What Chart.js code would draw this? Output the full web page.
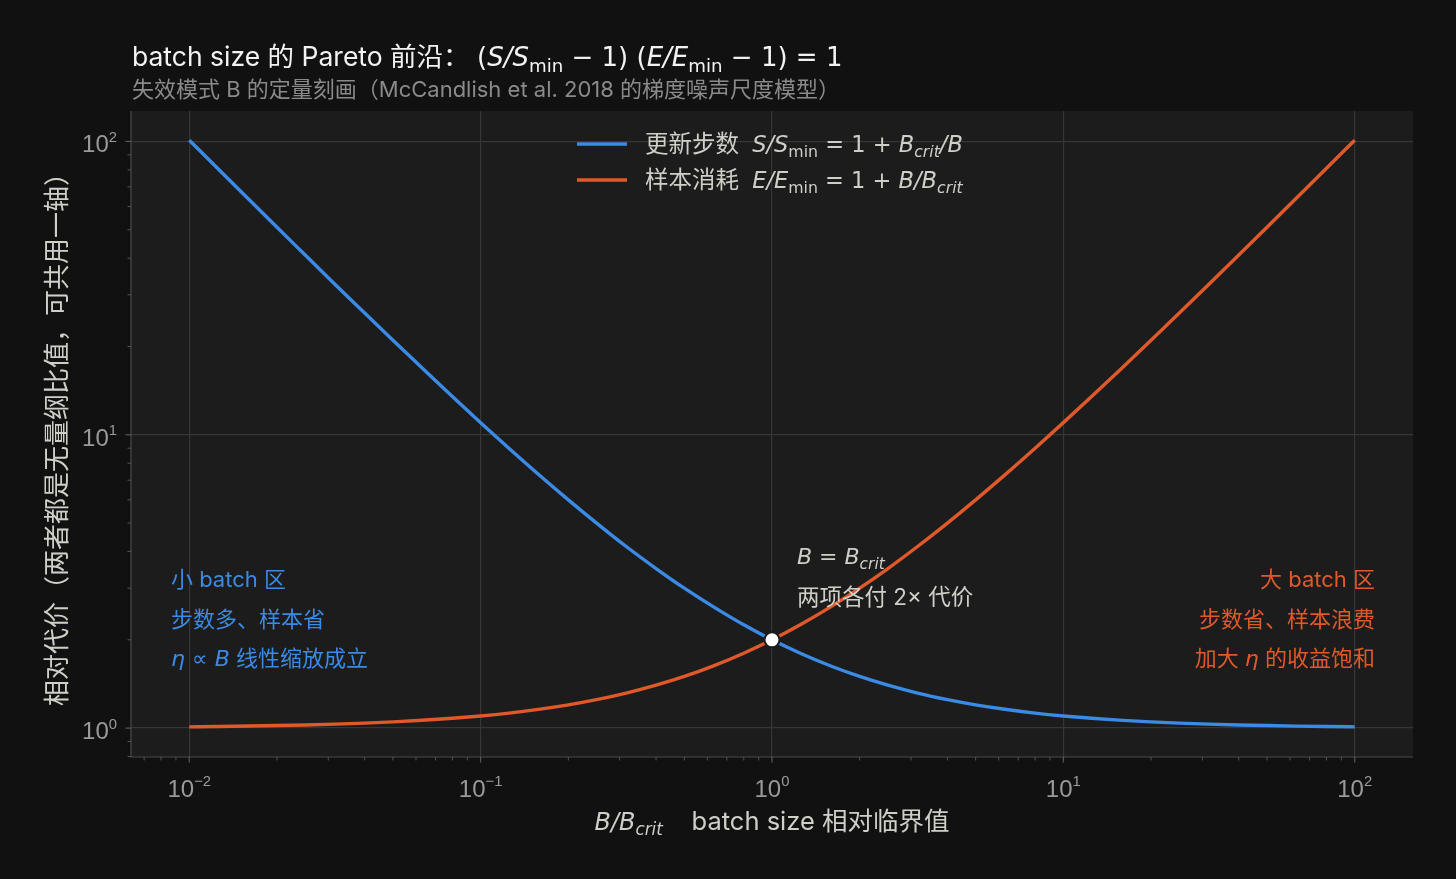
<!DOCTYPE html>
<html><head><meta charset="utf-8">
<script src="https://cdn.jsdelivr.net/npm/chart.js@4/dist/chart.umd.min.js"></script>
<style>html,body{margin:0;padding:0;background:#111111;}canvas{display:block}</style>
</head><body>
<canvas id="c" width="1456" height="879"></canvas>
<script>
// ---- data ----
const batchRatio = [0.01,0.0125,0.016,0.02,0.025,0.0316,0.04,0.05,0.063,0.08,0.1,0.125,0.16,0.2,0.25,0.316,0.4,0.5,0.63,0.8,1,1.25,1.6,2,2.5,3.16,4,5,6.3,8,10,12.5,16,20,25,31.6,40,50,63,80,100];
const stepsCost = [101,81,63.5,51,41,32.6,26,21,16.9,13.5,11,9,7.25,6,5,4.16,3.5,3,2.59,2.25,2,1.8,1.625,1.5,1.4,1.316,1.25,1.2,1.159,1.125,1.1,1.08,1.0625,1.05,1.04,1.0316,1.025,1.02,1.0159,1.0125,1.01];
const samplesCost = [1.01,1.0125,1.016,1.02,1.025,1.0316,1.04,1.05,1.063,1.08,1.1,1.125,1.16,1.2,1.25,1.316,1.4,1.5,1.63,1.8,2,2.25,2.6,3,3.5,4.16,5,6,7.3,9,11,13.5,17,21,26,32.6,41,51,64,81,101];
const crossPoint = [{x:1, y:2}];
const xMajorTicks = [0.01,0.1,1,10,100];
const xTickExp = ['−2','−1','0','1','2'];
const yMajorTicks = [1,10,100];
const yTickExp = ['0','1','2'];

const BLUE = '#3a8ae6', ORANGE = '#e0592a';
const TXT = '"Inter","Noto Sans CJK SC",sans-serif';
const MATH = '"DejaVu Sans",sans-serif';
const TICK = '"Liberation Sans",sans-serif';
const LIGHT = '#cfcfc8';

// kinds: t text, m math upright, i math italic, sb math sub upright, sbi math sub italic, k tick digits, sp tick superscript
function spec(kind, size){
  switch(kind){
    case 't':  return {f: size+'px '+TXT, dy:0};
    case 'm':  return {f: size+'px '+MATH, dy:0};
    case 'i':  return {f: 'italic '+size+'px '+MATH, dy:0};
    case 'sb': return {f: (size*0.7)+'px '+MATH, dy:size*0.22};
    case 'sbi':return {f: 'italic '+(size*0.7)+'px '+MATH, dy:size*0.22};
    case 'k':  return {f: size+'px '+TICK, dy:0};
    case 'sp': return {f: (size*0.62)+'px '+TICK, dy:-size*0.44};
  }
}
function rich(ctx, segs, x, y, size, color, align){
  const parts = segs.map(s=>{
    const sz = s.s || size;
    const sp = spec(s.k, sz);
    ctx.font = sp.f;
    return {t:s.t, font:sp.f, w:ctx.measureText(s.t).width, dy:sp.dy};
  });
  const total = parts.reduce((a,p)=>a+p.w,0);
  let cx = align==='center' ? x-total/2 : align==='right' ? x-total : x;
  ctx.fillStyle = color; ctx.textAlign='left'; ctx.textBaseline='alphabetic';
  for (const p of parts){ ctx.font=p.font; ctx.fillText(p.t, cx, y+p.dy); cx+=p.w; }
  return total;
}
const T=(t,s)=>({t,k:'t',s}), M=(t,s)=>({t,k:'m',s}), I=(t,s)=>({t,k:'i',s}), SB=(t,s)=>({t,k:'sb',s}), SBI=(t,s)=>({t,k:'sbi',s}), K=t=>({t,k:'k'}), SP=t=>({t,k:'sp'});

function minorList(min, max){
  const out=[];
  for (let e=-4;e<=4;e++) for (let m=2;m<=9;m++){ const v=m*Math.pow(10,e); if(v>=min&&v<=max) out.push(v); }
  return out;
}

const deco = {
  id:'deco',
  beforeDraw(chart){
    const {ctx, chartArea:a} = chart;
    ctx.save(); ctx.fillStyle='#111111'; ctx.fillRect(0,0,chart.width,chart.height);
    ctx.fillStyle='#1c1c1c'; ctx.fillRect(a.left,a.top,a.right-a.left,a.bottom-a.top); ctx.restore();
  },
  afterDraw(chart){
    const {ctx, chartArea:a, scales:{x:xs, y:ys}} = chart;
    ctx.save();
    // spines
    ctx.strokeStyle='#4a4a4a'; ctx.lineWidth=1.2;
    ctx.beginPath(); ctx.moveTo(a.left, a.top); ctx.lineTo(a.left, a.bottom); ctx.lineTo(a.right, a.bottom); ctx.stroke();
    // ticks
    ctx.strokeStyle='#5a5a5a';
    ctx.lineWidth=1.2;
    xMajorTicks.forEach(v=>{const p=xs.getPixelForValue(v); ctx.beginPath(); ctx.moveTo(p,a.bottom); ctx.lineTo(p,a.bottom+5.5); ctx.stroke();});
    yMajorTicks.forEach(v=>{const p=ys.getPixelForValue(v); ctx.beginPath(); ctx.moveTo(a.left,p); ctx.lineTo(a.left-5.5,p); ctx.stroke();});
    ctx.lineWidth=0.9;
    minorList(xs.min, xs.max).forEach(v=>{const p=xs.getPixelForValue(v); ctx.beginPath(); ctx.moveTo(p,a.bottom); ctx.lineTo(p,a.bottom+3.5); ctx.stroke();});
    minorList(ys.min, ys.max).forEach(v=>{const p=ys.getPixelForValue(v); ctx.beginPath(); ctx.moveTo(a.left,p); ctx.lineTo(a.left-3.5,p); ctx.stroke();});
    // tick labels
    xMajorTicks.forEach((v,i)=>{ rich(ctx,[K('10'),SP(xTickExp[i])], xs.getPixelForValue(v), a.bottom+40, 24, '#9a9a9a','center'); });
    yMajorTicks.forEach((v,i)=>{ rich(ctx,[K('10'),SP(yTickExp[i])], a.left-14, ys.getPixelForValue(v)+11, 24, '#9a9a9a','right'); });
    // axis titles
    rich(ctx,[I('B/B',24),SBI('crit',24),T('    batch size 相对临界值',25.5)], 772, 830, 25.5, LIGHT, 'center');
    ctx.save(); ctx.translate(66, 433); ctx.rotate(-Math.PI/2);
    rich(ctx,[T('相对代价（两者都是无量纲比值，可共用一轴）')], 0, 0, 26, LIGHT, 'center');
    ctx.restore();
    // title
    rich(ctx,[T('batch size 的 Pareto 前沿： ',26.5),M('(',26),I('S/S',26),SB('min',26),M(' − 1) (',26),I('E/E',26),SB('min',26),M(' − 1) = 1',26)], 132, 66, 26.5, '#f2f2f2','left');
    rich(ctx,[T('失效模式 B 的定量刻画（McCandlish et al. 2018 的梯度噪声尺度模型）')], 132, 97, 22, '#8a8a8a','left');
    // legend
    ctx.lineWidth=3.5; ctx.lineCap='butt';
    ctx.strokeStyle=BLUE; ctx.beginPath(); ctx.moveTo(577,144); ctx.lineTo(627,144); ctx.stroke();
    ctx.strokeStyle=ORANGE; ctx.beginPath(); ctx.moveTo(577,180); ctx.lineTo(627,180); ctx.stroke();
    rich(ctx,[T('更新步数',23.5),T('  ',23.5),I('S/S',22.5),SB('min',22.5),M(' = 1 + ',22.5),I('B',22.5),SBI('crit',22.5),I('/B',22.5)], 645, 152, 22.5, LIGHT,'left');
    rich(ctx,[T('样本消耗',23.5),T('  ',23.5),I('E/E',22.5),SB('min',22.5),M(' = 1 + ',22.5),I('B/B',22.5),SBI('crit',22.5)], 645, 188, 22.5, LIGHT,'left');
    // annotations
    rich(ctx,[T('小 batch 区')], 171, 587, 22, BLUE,'left');
    rich(ctx,[T('步数多、样本省')], 171, 627, 22, BLUE,'left');
    rich(ctx,[I('η'),M(' ∝ '),I('B'),T(' 线性缩放成立')], 171, 666, 22, BLUE,'left');
    rich(ctx,[T('大 batch 区')], 1375, 587, 22, ORANGE,'right');
    rich(ctx,[T('步数省、样本浪费')], 1375, 627, 22, ORANGE,'right');
    rich(ctx,[T('加大 '),I('η'),T(' 的收益饱和')], 1375, 666, 22, ORANGE,'right');
    rich(ctx,[I('B'),M(' = '),I('B'),SBI('crit')], 797, 564, 22, LIGHT,'left');
    rich(ctx,[T('两项各付 2× 代价')], 797, 605, 22.5, LIGHT,'left');
    ctx.restore();
  }
};

new Chart(document.getElementById('c'), {
  type:'line',
  data:{
    datasets:[
      {label:'point', type:'scatter', data:crossPoint, order:-1, pointRadius:7.5, pointBackgroundColor:'#ffffff', pointBorderColor:'#1c1c1c', pointBorderWidth:2, showLine:false},
      {label:'更新步数', data:batchRatio.map((x,i)=>({x, y:stepsCost[i]})), borderColor:BLUE, borderWidth:3.4, pointRadius:0, cubicInterpolationMode:'monotone', fill:false},
      {label:'样本消耗', data:batchRatio.map((x,i)=>({x, y:samplesCost[i]})), borderColor:ORANGE, borderWidth:3.4, pointRadius:0, cubicInterpolationMode:'monotone', fill:false}
    ]
  },
  options:{
    responsive:false, animation:false, devicePixelRatio:1,
    layout:{padding:{left:131, right:43, top:111, bottom:122}},
    plugins:{legend:{display:false}, tooltip:{enabled:false}, title:{display:false}},
    scales:{
      x:{type:'logarithmic', min:0.00631, max:158.5, bounds:'data',
         ticks:{display:false}, border:{display:false},
         grid:{color:'#363636', lineWidth:1.2, drawTicks:false},
         afterBuildTicks(s){ s.ticks = xMajorTicks.map(v=>({value:v})); }},
      y:{type:'logarithmic', min:0.797, max:127, bounds:'data',
         ticks:{display:false}, border:{display:false},
         grid:{color:'#363636', lineWidth:1.2, drawTicks:false},
         afterBuildTicks(s){ s.ticks = yMajorTicks.map(v=>({value:v})); }}
    }
  },
  plugins:[deco]
});
</script>
</body></html>
